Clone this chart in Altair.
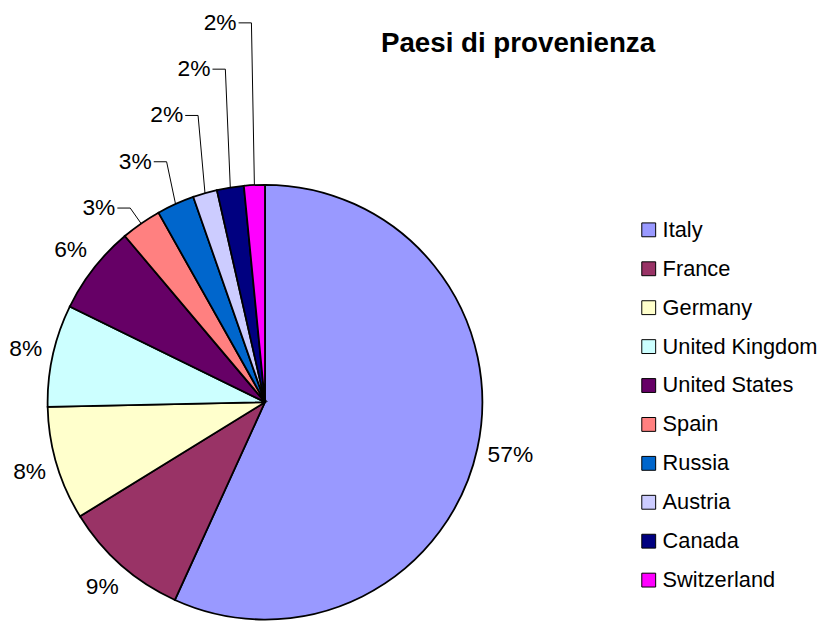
import math
import altair as alt
import pandas as pd

# ---- data ----
countries = ["Italy", "France", "Germany", "United Kingdom", "United States",
             "Spain", "Russia", "Austria", "Canada", "Switzerland"]
shares = [56.8, 9.4, 8.45, 7.6, 6.6, 3.0, 2.8, 1.8, 2.0, 1.55]
labels = ["57%", "9%", "8%", "8%", "6%", "3%", "3%", "2%", "2%", "2%"]
colors = ["#9999FF", "#993366", "#FFFFCC", "#CCFFFF", "#660066",
          "#FF8080", "#0066CC", "#CCCCFF", "#000080", "#FF00FF"]
chart_title = "Paesi di provenienza"

# ---- layout ----
W, H = 825, 615
CX, CY, R = 259.5, 395.0, 219.5
FONT = "Liberation Sans"
LABEL_SIZE = 23
xs = alt.Scale(domain=[(0 - CX) / R, (W - CX) / R], nice=False, zero=False)
ys = alt.Scale(domain=[(CY - H) / R, CY / R], nice=False, zero=False)

total = sum(shares)
cum = 0.0
pie_rows, big_rows, small_rows, line_rows = [], [], [], []
n_small = 5
for i, (c, s, lab) in enumerate(zip(countries, shares, labels)):
    start = cum / total
    cum += s
    end = cum / total
    mid = (start + end) / 2 * 2 * math.pi
    pie_rows.append({"country": c, "share": s, "idx": i, "cx": 0.0, "cy": 0.0})
    ux, uy = math.sin(mid), math.cos(mid)
    if i < len(countries) - n_small:
        # label box kept a fixed gap outside the rim (box half extents)
        hw = LABEL_SIZE * (0.556 * (len(lab) - 1) + 0.889) / 2
        hh = 12
        dist = (R + 9 + hw * abs(ux) + hh * abs(uy)) / R
        big_rows.append({"country": c, "label": lab, "x": dist * ux, "y": dist * uy})
    else:
        k = len(countries) - 1 - i          # 0 for the last slice
        row_y_px = 20 + 46.75 * k - 8      # label row, chart pixels
        vy = (CY - row_y_px) / R
        elbow_x = ux - (3 + 2 * k) / R
        start_x = elbow_x - 13 / R
        small_rows.append({"country": c, "label": lab, "x": start_x - 2 / R, "y": vy})
        line_rows += [
            {"country": c, "seq": 0, "x": start_x, "y": vy},
            {"country": c, "seq": 1, "x": elbow_x, "y": vy},
            {"country": c, "seq": 2, "x": ux, "y": uy},
        ]

pie_df = pd.DataFrame(pie_rows)
big_df = pd.DataFrame(big_rows)
small_df = pd.DataFrame(small_rows)
line_df = pd.DataFrame(line_rows)

pie = alt.Chart(pie_df).mark_arc(stroke="black", strokeWidth=1.8).encode(
    x=alt.X("cx:Q", scale=xs, axis=None),
    y=alt.Y("cy:Q", scale=ys, axis=None),
    theta=alt.Theta("share:Q", stack=True),
    order=alt.Order("idx:Q"),
    radius=alt.value(R),
    color=alt.Color(
        "country:N",
        scale=alt.Scale(domain=countries, range=colors),
        sort=countries,
        legend=alt.Legend(
            orient="none", legendX=636, legendY=210, title=None, padding=0,
            symbolType="square", symbolSize=196, symbolStrokeColor="black",
            symbolStrokeWidth=1, symbolOpacity=1,
            labelFont=FONT, labelFontSize=22, labelColor="black",
            labelOffset=3, rowPadding=17.3, labelLimit=400,
        ),
    ),
)

big_text = alt.Chart(big_df).mark_text(
    font=FONT, fontSize=LABEL_SIZE, align="center", baseline="middle", color="black"
).encode(
    x=alt.X("x:Q", scale=xs, axis=None),
    y=alt.Y("y:Q", scale=ys, axis=None),
    text="label:N",
)

small_text = alt.Chart(small_df).mark_text(
    font=FONT, fontSize=LABEL_SIZE, align="right", baseline="middle", color="black"
).encode(
    x=alt.X("x:Q", scale=xs, axis=None),
    y=alt.Y("y:Q", scale=ys, axis=None),
    text="label:N",
)

leaders = alt.Chart(line_df).mark_line(color="black", strokeWidth=1).encode(
    x=alt.X("x:Q", scale=xs, axis=None),
    y=alt.Y("y:Q", scale=ys, axis=None),
    detail="country:N",
    order="seq:Q",
)

title = alt.Chart(pd.DataFrame({"t": [chart_title]})).mark_text(
    font=FONT, fontSize=28, fontWeight="bold", align="center",
    baseline="alphabetic", color="black"
).encode(
    x=alt.value(515), y=alt.value(41), text="t:N"
)

chart = alt.layer(pie, leaders, big_text, small_text, title).properties(
    width=W, height=H, padding=0, autosize=alt.AutoSizeParams(type="none")
).configure_view(stroke=None)

chart.save("out.html", embed_options={"renderer": "svg", "actions": False})
